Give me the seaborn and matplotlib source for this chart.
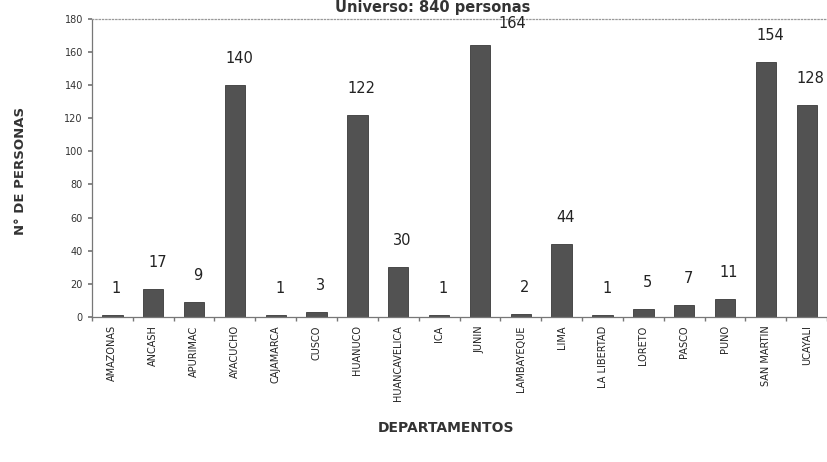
import matplotlib
matplotlib.use("Agg")
import matplotlib.pyplot as plt
import seaborn as sns
import pandas as pd
import numpy as np

departamentos = ["AMAZONAS", "ANCASH", "APURIMAC", "AYACUCHO", "CAJAMARCA", "CUSCO",
                 "HUANUCO", "HUANCAVELICA", "ICA", "JUNIN", "LAMBAYEQUE", "LIMA",
                 "LA LIBERTAD", "LORETO", "PASCO", "PUNO", "SAN MARTIN", "UCAYALI"]
personas = [1, 17, 9, 140, 1, 3, 122, 30, 1, 164, 2, 44, 1, 5, 7, 11, 154, 128]
y_ticks = [0, 20, 40, 60, 80, 100, 120, 140, 160, 180]

sns.set_theme(style="white")
plt.rcParams["font.family"] = ["DejaVu Sans"]

df = pd.DataFrame({"dep": departamentos, "n": personas})

fig = plt.figure(figsize=(8.28, 4.62), dpi=100)
ax = fig.add_axes([0.111, 0.314, 0.888, 0.645])

sns.barplot(data=df, x="dep", y="n", color="#525252", width=0.5, ax=ax,
            saturation=1, edgecolor="#3a3a3a", linewidth=0.6)

ax.set_ylim(0, 180)
ax.set_xlim(-0.5, len(departamentos) - 0.5)
ax.set_yticks(y_ticks)
ax.set_yticklabels([str(t) for t in y_ticks], fontsize=7, color="#333333")
ax.set_xticks(range(len(departamentos)))
ax.set_xticklabels(departamentos, rotation=90, fontsize=7, color="#222222")
ax.tick_params(axis="x", which="major", length=0, pad=6)
ax.set_xticks(np.arange(-0.5, len(departamentos), 1), minor=True)
ax.tick_params(axis="x", which="minor", length=3, color="#777777", direction="out", bottom=True)
ax.tick_params(axis="y", length=3, color="#777777", direction="out", left=True)

for side in ["left", "bottom"]:
    ax.spines[side].set_color("#777777")
    ax.spines[side].set_linewidth(0.9)
ax.spines["top"].set_color("#999999")
ax.spines["top"].set_linestyle(":")
ax.spines["top"].set_linewidth(0.9)
ax.spines["right"].set_visible(False)

for i, v in enumerate(personas):
    if v + 16 > 176:
        # tallest bar: value sits beside the bar, at the top of the frame
        ax.text(i + 0.78, 177.5, str(v), ha="center", va="center", fontsize=10.5, color="#222222")
    else:
        ax.text(i + 0.1, v + 16, str(v), ha="center", va="center", fontsize=10.5, color="#222222")

ax.set_xlabel("DEPARTAMENTOS", fontsize=10, fontweight="bold", color="#333333")
ax.set_ylabel("N° DE PERSONAS", fontsize=9.5, fontweight="bold", color="#333333")
ax.xaxis.set_label_coords(0.482, -0.35)
ax.yaxis.set_label_coords(-0.088, 0.49)

fig.text(0.522, 1.0, "Universo: 840 personas", ha="center", va="top",
         fontsize=10.5, fontweight="bold", color="#333333")

fig.savefig("out.png", dpi=100, facecolor="white")
